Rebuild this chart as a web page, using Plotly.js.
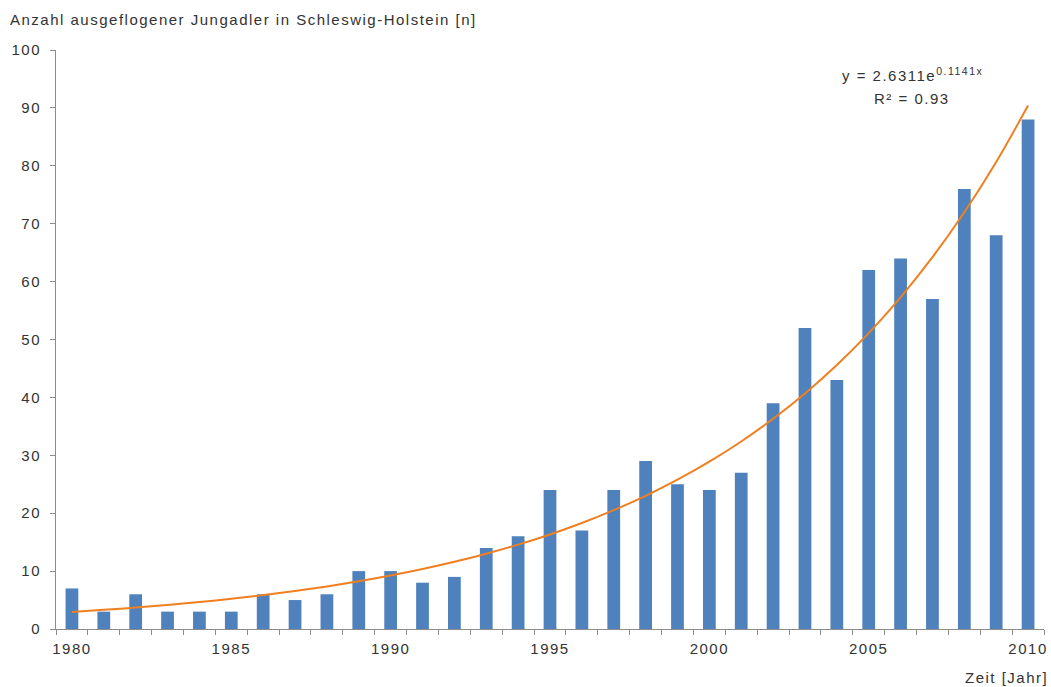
<!DOCTYPE html>
<html>
<head>
<meta charset="utf-8">
<script src="https://cdn.plot.ly/plotly-3.0.1.min.js"></script>
<style>html,body{margin:0;padding:0;background:#fff;}#chart{width:1051px;height:687px;} svg text{letter-spacing:1.5px;}</style>
</head>
<body>
<div id="chart"></div>
<script>
const years = [1980,1981,1982,1983,1984,1985,1986,1987,1988,1989,1990,1991,1992,1993,1994,1995,1996,1997,1998,1999,2000,2001,2002,2003,2004,2005,2006,2007,2008,2009,2010];
const jungadler = [7,3,6,3,3,3,6,5,6,10,10,8,9,14,16,24,17,24,29,25,24,27,39,52,43,62,64,57,76,68,88];
// exponential trend line values (y = 2.6311e^0.1141x), read per year
const trend = [2.95,3.31,3.71,4.15,4.66,5.22,5.85,6.56,7.35,8.24,9.23,10.35,11.6,13.0,14.57,16.33,18.3,20.52,23.0,25.78,28.89,32.38,36.3,40.68,45.6,51.11,57.29,64.21,71.98,80.67,90.42];
const xTickLabels = [1980,1985,1990,1995,2000,2005,2010];
const yTicks = [0,10,20,30,40,50,60,70,80,90,100];

const font = {family: 'Liberation Sans, Arial, sans-serif', size: 15, color: '#333'};

const data = [
  {type:'bar', x: years, y: jungadler, marker:{color:'#4F81BD'}, width:0.4, hoverinfo:'x+y'},
  {type:'scatter', mode:'lines', x: years, y: trend, line:{color:'#F07F1F', width:2, shape:'spline'}}
];

const layout = {
  width:1051, height:687,
  margin:{l:56, r:7, t:50, b:58},
  paper_bgcolor:'#fff', plot_bgcolor:'#fff',
  showlegend:false,
  font: font,
  xaxis:{
    range:[1979.5, 2010.5], showgrid:false, zeroline:false,
    showline:true, linecolor:'#8c8c8c', linewidth:1,
    tickvals: xTickLabels, ticktext: xTickLabels.map(String), ticks:'', tickfont: font,
    ticklabelstandoff: 6,
    minor:{ticks:'outside', tick0:1979.5, dtick:1, ticklen:5, tickcolor:'#8c8c8c', showgrid:false}
  },
  yaxis:{
    range:[0,100], showgrid:false, zeroline:false,
    showline:true, linecolor:'#8c8c8c', linewidth:1,
    tickvals: yTicks, ticks:'outside', ticklen:5, tickcolor:'#8c8c8c', tickfont: font,
    ticklabelstandoff: 6
  },
  annotations:[
    {xref:'paper', yref:'paper', x:-0.049, y:1, yshift:31, xanchor:'left', yanchor:'middle', showarrow:false,
     text:'Anzahl ausgeflogener Jungadler in Schleswig-Holstein [n]', font: font},
    {xref:'paper', yref:'paper', x:1.006, y:0, yshift:-48, xanchor:'right', yanchor:'middle', showarrow:false,
     text:'Zeit [Jahr]', font: font},
    {xref:'x', yref:'y', x:2006.36, y:95.7, xanchor:'center', yanchor:'middle', showarrow:false,
     text:'y = 2.6311e<sup>0.1141x</sup>', font: font},
    {xref:'x', yref:'y', x:2006.36, y:91.7, xanchor:'center', yanchor:'middle', showarrow:false,
     text:'R² = 0.93', font: font}
  ]
};

Plotly.newPlot('chart', data, layout, {displayModeBar:false, staticPlot:true});
</script>
</body>
</html>
